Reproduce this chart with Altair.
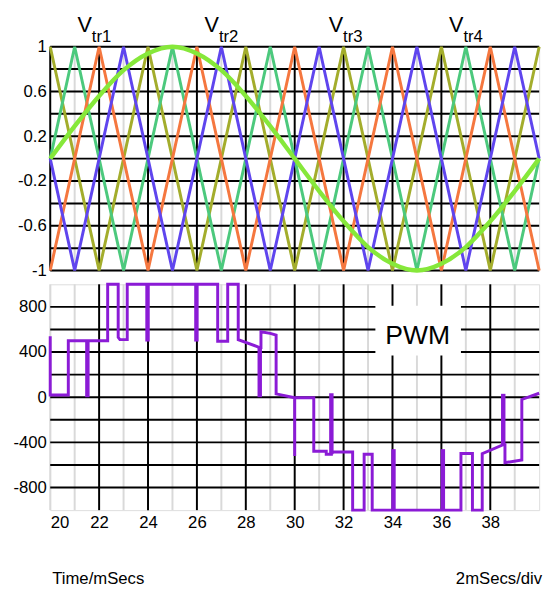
import altair as alt
import pandas as pd

FONT = "Liberation Sans Narrow, Liberation Sans, Arial, sans-serif"

# ---- top panel data ----
tri_t = [20, 21, 22, 23, 24, 25, 26, 27, 28, 29, 30, 31, 32, 33, 34, 35, 36, 37, 38, 39, 40]
vtr_olive = [1, 0, -1, 0, 1, 0, -1, 0, 1, 0, -1, 0, 1, 0, -1, 0, 1, 0, -1, 0, 1]
vtr_green = [0, 1, 0, -1, 0, 1, 0, -1, 0, 1, 0, -1, 0, 1, 0, -1, 0, 1, 0, -1, 0]
vtr_orange = [-1, 0, 1, 0, -1, 0, 1, 0, -1, 0, 1, 0, -1, 0, 1, 0, -1, 0, 1, 0, -1]
vtr_blue = [0, -1, 0, 1, 0, -1, 0, 1, 0, -1, 0, 1, 0, -1, 0, 1, 0, -1, 0, 1, 0]

sine_t = [20, 21, 22, 23, 24, 25, 26, 27, 28, 29, 30, 31, 32, 33, 34, 35, 36, 37, 38, 39, 40]
sine_v = [0, 0.29, 0.56, 0.79, 0.94, 1.0, 0.94, 0.79, 0.56, 0.29, 0,
          -0.29, -0.56, -0.79, -0.94, -1.0, -0.94, -0.79, -0.56, -0.29, 0]

top_h_grid = [1, 0.8, 0.6, 0.4, 0.2, 0, -0.2, -0.4, -0.6, -0.8, -1]
top_black_v = [20, 22, 24, 26, 28, 30, 32, 34, 36, 38]
top_gray_v = [21, 23, 25, 27, 29, 31, 33, 35, 37, 39]
top_labels = [1, 0.6, 0.2, -0.2, -0.6, -1]

lab_t = [21.70, 26.90, 31.98, 36.90]
lab_main = ["V", "V", "V", "V"]
lab_sub = ["tr1", "tr2", "tr3", "tr4"]

# ---- bottom panel data ----
pwm_t = [20.00, 20.00, 20.74, 20.74, 22.35, 22.35, 22.78, 22.78, 22.85, 23.15,
         23.15, 26.85, 26.85, 27.26, 27.26, 27.69, 27.69, 28.57, 28.62, 28.62,
         29.00, 29.24, 29.24, 30.00, 30.00, 30.00, 30.78, 30.78, 31.29, 31.29,
         31.50, 31.50, 32.37, 32.37, 32.84, 32.84, 33.17, 33.17, 36.80, 36.80,
         37.27, 37.27, 37.67, 37.67, 38.53, 38.60, 38.60, 39.29, 39.29, 40.00]
pwm_v = [540, 20, 20, 500, 500, 1000, 1000, 530, 510, 510,
         1000, 1000, 495, 495, 1000, 1000, 510, 440, 440, 580,
         565, 550, 30, -5, -520, -5, -5, -478, -478, -505,
         -505, -485, -485, -1000, -1000, -505, -505, -1000, -1000, -498,
         -498, -1000, -1000, -500, -420, -420, -580, -555, -20, 35]

burst_t = [21.52, 23.98, 25.98, 28.57, 31.50, 34.04, 36.06, 38.53]
burst_lo = [0, 493, 493, 0, -505, -1000, -1000, -420]
burst_hi = [500, 1000, 1000, 440, 35, -460, -460, 30]

bot_h_grid = [800, 600, 400, 200, 0, -200, -400, -600, -800]
bot_black_v = [22, 24, 26, 28, 30, 32, 34, 36, 38]
bot_gray_v = [20, 21, 23, 25, 27, 29, 31, 33, 35, 37, 39]
bot_labels = [800, 400, 0, -400, -800]
x_labels = [20, 22, 24, 26, 28, 30, 32, 34, 36, 38]

box_t = [33.3, 36.8]
box_v = [810, 370]
pwm_label = ["PWM"]
pwm_label_t = [35.03]
pwm_label_v = [545]

foot_text = ["Time/mSecs", "2mSecs/div"]
foot_t = [20.08, 40.12]
foot_v = [-1611, -1611]

# ---- colours ----
series_names = ["tr_olive", "tr_green", "tr_orange", "tr_blue"]
series_colors = ["#a3ad2c", "#4cc97d", "#f5773f", "#5f45ee"]
SINE = "#86e83a"
PURPLE = "#8b1bd6"
GRAY = "#d9d9d9"

W = 498
LFS = 17
xs = alt.Scale(domain=[20, 40], nice=False, zero=False)
ys_top = alt.Scale(domain=[-1, 1], nice=False, zero=False)
ys_bot = alt.Scale(domain=[-1000, 1000], nice=False, zero=False)

# ---- top panel ----
rows = []
for name, vals in zip(series_names, [vtr_olive, vtr_green, vtr_orange, vtr_blue]):
    for t, v in zip(tri_t, vals):
        rows.append({"t": t, "v": v, "s": name})
tri_df = pd.DataFrame(rows)
sine_df = pd.DataFrame({"t": sine_t, "v": sine_v})

yaxis_top = alt.Axis(values=top_labels, labelExpr="'' + datum.value", domain=False,
                     ticks=False, grid=False, labelPadding=4, labelFont=FONT,
                     labelFontSize=LFS, labelColor="black", title=None)

t_gray = alt.Chart(pd.DataFrame({"t": top_gray_v})).mark_rule(color=GRAY, strokeWidth=2).encode(
    x=alt.X("t:Q", scale=xs, axis=None))
t_black = alt.Chart(pd.DataFrame({"t": top_black_v})).mark_rule(color="black", strokeWidth=2).encode(
    x=alt.X("t:Q", scale=xs, axis=None))
t_h = alt.Chart(pd.DataFrame({"v": top_h_grid})).mark_rule(color="black", strokeWidth=2).encode(
    y=alt.Y("v:Q", scale=ys_top, axis=yaxis_top))
t_tri = alt.Chart(tri_df).mark_line(strokeWidth=3).encode(
    x=alt.X("t:Q", scale=xs, axis=None),
    y=alt.Y("v:Q", scale=ys_top, axis=yaxis_top),
    color=alt.Color("s:N", scale=alt.Scale(domain=series_names, range=series_colors), legend=None),
    order=alt.Order("t:Q"))
t_sine = alt.Chart(sine_df).mark_line(strokeWidth=4.5, color=SINE, interpolate="monotone").encode(
    x=alt.X("t:Q", scale=xs, axis=None),
    y=alt.Y("v:Q", scale=ys_top, axis=yaxis_top))
lab_df = pd.DataFrame({"t": lab_t, "m": lab_main, "s": lab_sub,
                       "ym": [1.13] * 4, "ys": [1.038] * 4})
t_labm = alt.Chart(lab_df).mark_text(font=FONT, fontSize=22, align="right", baseline="alphabetic",
                                     color="black").encode(
    x=alt.X("t:Q", scale=xs, axis=None), y=alt.Y("ym:Q", scale=ys_top), text="m:N")
t_labs = alt.Chart(lab_df).mark_text(font=FONT, fontSize=17, align="left", baseline="alphabetic",
                                     color="black").encode(
    x=alt.X("t:Q", scale=xs, axis=None), y=alt.Y("ys:Q", scale=ys_top), text="s:N")

top = alt.layer(t_gray, t_black, t_h, t_tri, t_sine, t_labm, t_labs).properties(width=W, height=228)

# ---- bottom panel ----
pwm_df = pd.DataFrame({"t": pwm_t, "v": pwm_v, "i": list(range(len(pwm_t)))})
burst_df = pd.DataFrame({"t": burst_t, "lo": burst_lo, "hi": burst_hi})

yaxis_bot = alt.Axis(values=bot_labels, labelExpr="'' + datum.value", domain=False,
                     ticks=False, grid=False, labelPadding=4, labelFont=FONT,
                     labelFontSize=LFS, labelColor="black", title=None)
xaxis_bot = alt.Axis(values=x_labels, labelExpr="'' + datum.value", domain=False,
                     ticks=False, grid=False, labelPadding=5, labelFont=FONT,
                     labelFontSize=LFS, labelColor="black", title=None)

b_gray = alt.Chart(pd.DataFrame({"t": bot_gray_v})).mark_rule(color=GRAY, strokeWidth=2).encode(
    x=alt.X("t:Q", scale=xs, axis=xaxis_bot))
b_black = alt.Chart(pd.DataFrame({"t": bot_black_v})).mark_rule(color="black", strokeWidth=2).encode(
    x=alt.X("t:Q", scale=xs, axis=xaxis_bot))
b_h = alt.Chart(pd.DataFrame({"v": bot_h_grid})).mark_rule(color="black", strokeWidth=2).encode(
    y=alt.Y("v:Q", scale=ys_bot, axis=yaxis_bot))
box_df = pd.DataFrame({"t1": [box_t[0]], "t2": [box_t[1]], "v1": [box_v[0]], "v2": [box_v[1]]})
b_box = alt.Chart(box_df).mark_rect(color="white").encode(
    x=alt.X("t1:Q", scale=xs, axis=xaxis_bot), x2="t2:Q",
    y=alt.Y("v1:Q", scale=ys_bot, axis=yaxis_bot), y2="v2:Q")
pl_df = pd.DataFrame({"t": pwm_label_t, "v": pwm_label_v, "s": pwm_label})
b_pl = alt.Chart(pl_df).mark_text(font=FONT, fontSize=27, align="center", baseline="middle",
                                  color="black").encode(
    x=alt.X("t:Q", scale=xs, axis=xaxis_bot), y=alt.Y("v:Q", scale=ys_bot, axis=yaxis_bot), text="s:N")
b_pwm = alt.Chart(pwm_df).mark_line(strokeWidth=3, color=PURPLE).encode(
    x=alt.X("t:Q", scale=xs, axis=xaxis_bot),
    y=alt.Y("v:Q", scale=ys_bot, axis=yaxis_bot),
    order=alt.Order("i:Q"))
b_burst = alt.Chart(burst_df).mark_rule(strokeWidth=4.5, color=PURPLE).encode(
    x=alt.X("t:Q", scale=xs, axis=xaxis_bot),
    y=alt.Y("lo:Q", scale=ys_bot, axis=yaxis_bot), y2="hi:Q")
foot_df = pd.DataFrame({"s": foot_text, "t": foot_t, "v": foot_v})
b_foot_l = alt.Chart(foot_df.iloc[[0]]).mark_text(font=FONT, fontSize=17, align="left",
                                                  baseline="middle", color="black").encode(
    x=alt.X("t:Q", scale=xs, axis=xaxis_bot), y=alt.Y("v:Q", scale=ys_bot, axis=yaxis_bot), text="s:N")
b_foot_r = alt.Chart(foot_df.iloc[[1]]).mark_text(font=FONT, fontSize=17, align="right",
                                                  baseline="middle", color="black").encode(
    x=alt.X("t:Q", scale=xs, axis=xaxis_bot), y=alt.Y("v:Q", scale=ys_bot, axis=yaxis_bot), text="s:N")

bottom = alt.layer(b_gray, b_black, b_h, b_box, b_pl, b_pwm, b_burst, b_foot_l, b_foot_r).properties(
    width=W, height=230)

chart = alt.vconcat(top, bottom, spacing=14, bounds="flush").properties(
    padding={"left": 4, "top": 0, "right": 0, "bottom": 0}
).configure_view(stroke=None).configure(background="white")

chart.save("out.html", embed_options={"renderer": "svg", "actions": False})
